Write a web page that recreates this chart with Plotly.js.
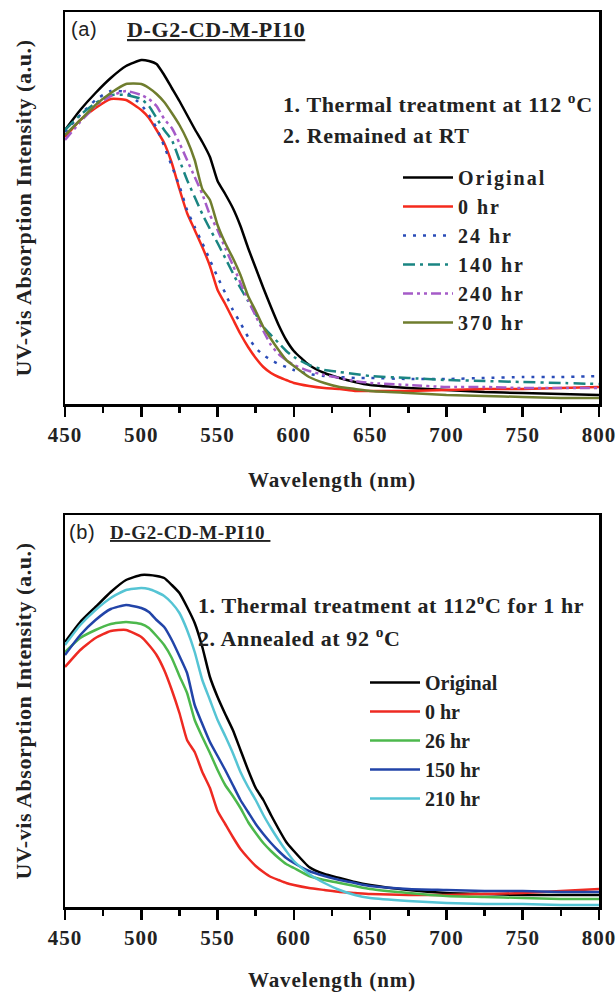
<!DOCTYPE html>
<html><head><meta charset="utf-8">
<script src="https://cdn.plot.ly/plotly-3.0.1.min.js"></script>
<style>
html,body{margin:0;padding:0;background:#fff}
#chart{width:616px;height:992px}
.legendtext{letter-spacing:2px}
.annotation-text{letter-spacing:0.6px}
.xtitle,.x2title{letter-spacing:0.9px}
.ytitle,.y2title{letter-spacing:0.6px}
.xtick text,.x2tick text{letter-spacing:1px}
</style>
</head><body><div id="chart"></div>
<script>
// Wavelength grid (nm)
const wavelength = [450,460,470,480,490,500,505,510,515,520,525,530,535,540,545,550,555,560,565,570,575,580,585,590,595,600,610,620,630,640,650,675,700,725,750,775,800];

// Panel (a): thermal treatment at 112 °C, remained at RT (a.u.)
const aLabels = ['Original','0 hr','24 hr','140 hr','240 hr','370 hr'];
const aOriginal = [274,294,311,326,338,344,343,340,329,316,303,289,275,262,247,223,210,196,178,156,136,116,97,79,64,53,39,31,26,22,19,16,14,12,11,10,9];
const a0hr      = [267,284,296,305,304,294,286,274,261,241,215,191,174,157,138,114,100,85,70,57,46,37,31,27,24,21,18,16,15,13,13,13,14,15,15,16,17];
const a24hr     = [272,289,304,313,312,299,289,276,258,238,218,194,177,161,144,127,111,94,81,67,56,49,44,40,37,34,30,28,27,26,26,25,25,26,27,27,28];
const a140hr    = [274,289,301,309,309,305,298,286,274,264,244,224,207,190,175,161,146,131,116,103,90,77,69,61,53,47,39,34,32,30,28,26,24,23,22,21,20];
const a240hr    = [264,282,298,308,313,309,305,298,285,276,261,244,227,210,189,174,156,139,121,104,88,73,59,50,44,39,33,29,26,23,21,19,17,17,16,16,16];
const a370hr    = [269,284,299,311,320,320,316,310,302,291,279,264,244,215,204,179,161,146,129,108,93,77,65,54,44,38,27,21,17,15,13,11,9,8,7,6,6];

// Panel (b): thermal treatment at 112 °C for 1 hr, annealed at 92 °C (a.u.)
const bLabels = ['Original','0 hr','26 hr','150 hr','210 hr'];
const bOriginal = [265,285,300,315,327,332,332,331,329,322,314,300,284,260,230,210,193,177,157,137,119,107,92,78,65,56,40,33,29,25,22,17,14,13,12,12,12];
const b0hr      = [240,257,269,276,277,270,262,252,237,217,194,167,155,135,119,96,83,70,58,49,41,35,30,27,24,22,19,17,15,14,13,12,12,13,14,16,18];
const b26hr     = [255,269,277,283,285,283,279,271,262,249,231,214,187,170,154,137,122,111,99,85,74,64,56,49,43,39,31,27,24,21,18,14,11,10,9,8,8];
const b150hr    = [252,272,287,298,302,299,295,287,280,267,251,234,202,183,165,151,137,122,107,95,83,73,64,56,49,44,36,31,27,24,21,18,17,16,16,15,15];
const b210hr    = [262,282,297,309,317,319,318,315,311,304,294,277,255,227,207,187,171,154,135,120,107,92,79,67,56,46,33,24,17,12,9,6,4,3,3,2,2];

const xTicks = [450,500,550,600,650,700,750,800];

const SERIF = '"Liberation Serif", "Times New Roman", serif';
const SANS = '"Liberation Sans", Arial, sans-serif';
const INK = '#222';

const aSeries = [aOriginal,a0hr,a24hr,a140hr,a240hr,a370hr];
const aStyles = [
  {color:'#000000', dash:'solid'},
  {color:'#f52a1c', dash:'solid'},
  {color:'#2a4cb8', dash:'3px,7px'},
  {color:'#1a8582', dash:'12px,5px,3px,5px'},
  {color:'#a55bc8', dash:'10px,4px,3px,4px,3px,4px'},
  {color:'#6f7d2e', dash:'solid'}
];
const bSeries = [bOriginal,b0hr,b26hr,b150hr,b210hr];
const bStyles = [
  {color:'#000000'},{color:'#ee2a22'},{color:'#4cb84c'},{color:'#2244a8'},{color:'#55c4d4'}
];

const traces = [];
aSeries.forEach((s,i)=>traces.push({
  x: wavelength, y: s, name: aLabels[i], type:'scatter', mode:'lines',
  xaxis:'x', yaxis:'y', legend:'legend',
  line:{color:aStyles[i].color, width:2.5, dash:aStyles[i].dash, shape:'spline', smoothing:0.5}
}));
bSeries.forEach((s,i)=>traces.push({
  x: wavelength, y: s, name: bLabels[i], type:'scatter', mode:'lines',
  xaxis:'x2', yaxis:'y2', legend:'legend2',
  line:{color:bStyles[i].color, width:2.5, shape:'spline', smoothing:0.5}
}));

// layout helpers (pixel -> paper)
const L=65, R=599, T=12, B=907;
const px = p => (p-L)/(R-L);
const py = p => (B-p)/(B-T);

function xAxis(anchor){
  return {
    anchor: anchor, range:[450,800], domain:[0,1],
    tickvals: xTicks, ticktext: xTicks.map(String),
    ticks:'outside', ticklen:10, tickwidth:2.5, tickcolor:'#000',
    ticklabeloverflow:'allow',
    minor:{dtick:25, tick0:450, ticks:'outside', ticklen:6, tickwidth:2.5, tickcolor:'#000', showgrid:false},
    showline:true, linewidth:2.5, linecolor:'#000', mirror:true,
    showgrid:false, zeroline:false,
    tickfont:{family:SERIF, size:21, weight:'bold', color:INK},
    title:{text:'Wavelength (nm)', font:{family:SERIF, size:21, weight:'bold', color:INK}, standoff:27}
  };
}
function yAxis(anchor, domain){
  return {
    anchor: anchor, range:[0,392], domain: domain,
    showticklabels:false, ticks:'',
    showline:true, linewidth:2.5, linecolor:'#000', mirror:true,
    showgrid:false, zeroline:false,
    title:{text:'UV-vis Absorption Intensity (a.u.)', font:{family:SERIF, size:22, weight:'bold', color:INK}, standoff:25}
  };
}

const ann = (x,y,text,opts={}) => Object.assign({
  xref:'paper', yref:'paper', x:px(x), y:py(y), text:text, showarrow:false,
  xanchor:'left', yanchor:'middle',
  font:{family:SERIF, size:22, weight:'bold', color:INK}
}, opts);

const legendStyle = (x,y) => ({x:px(x), y:py(y), xanchor:'left', yanchor:'top', bgcolor:'rgba(0,0,0,0)', borderwidth:0,
  itemwidth:50, tracegroupgap:0, font:{family:SERIF, size:20, weight:'bold', color:INK}});

const layout = {
  width:616, height:992,
  margin:{l:L, r:616-R, t:T, b:992-B},
  paper_bgcolor:'#fff', plot_bgcolor:'#fff',
  font:{family:SERIF, color:INK},
  showlegend:true,
  xaxis: xAxis('y'),
  yaxis: yAxis('x', [py(404), 1]),
  xaxis2: xAxis('y2'),
  yaxis2: yAxis('x2', [0, py(515)]),
  legend: legendStyle(398, 158),
  legend2: legendStyle(365, 663),
  annotations:[
    ann(69, 29, '(a)', {font:{family:SANS, size:20, weight:'normal', color:INK}}),
    ann(125, 30, '<u>D-G2-CD-M-PI10</u>'),
    ann(281, 103, '1. Thermal treatment at 112 <sup>o</sup>C'),
    ann(281, 136, '2. Remained at RT'),
    ann(67, 532, '(b)', {font:{family:SANS, size:20, weight:'normal', color:INK}}),
    ann(108, 532, '<u>D-G2-CD-M-PI10 </u>', {font:{family:SERIF, size:19, weight:'bold', color:INK}}),
    ann(196, 604, '1. Thermal treatment at 112<sup>o</sup>C for 1 hr'),
    ann(196, 637, '2. Annealed at 92 <sup>o</sup>C')
  ]
};

Plotly.newPlot('chart', traces, layout, {displayModeBar:false, staticPlot:true});
</script>
</body></html>
